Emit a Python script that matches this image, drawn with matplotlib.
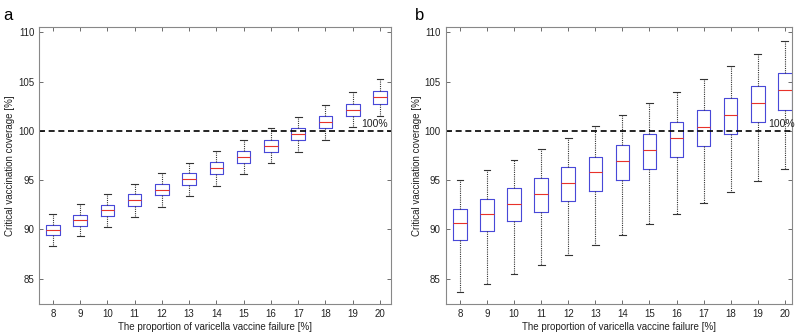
import matplotlib
matplotlib.use("Agg")
import matplotlib.pyplot as plt

plt.rcParams["font.family"] = ["Liberation Sans", "DejaVu Sans"]

# vaccine failure proportion (%)
failure = [8, 9, 10, 11, 12, 13, 14, 15, 16, 17, 18, 19, 20]

# panel a: whisker low, Q1, median, Q3, whisker high
a_low = [88.3, 89.3, 90.25, 91.3, 92.3, 93.4, 94.45, 95.6, 96.7, 97.9, 99.1, 100.35, 101.55]
a_q1 = [89.4, 90.35, 91.35, 92.4, 93.45, 94.5, 95.6, 96.75, 97.9, 99.1, 100.3, 101.5, 102.78]
a_med = [89.95, 90.93, 91.93, 92.98, 94.02, 95.1, 96.23, 97.36, 98.5, 99.72, 100.92, 102.15, 103.4]
a_q3 = [90.48, 91.5, 92.52, 93.58, 94.63, 95.7, 96.8, 97.93, 99.1, 100.28, 101.55, 102.76, 104.05]
a_high = [91.55, 92.56, 93.6, 94.62, 95.68, 96.75, 97.92, 99.07, 100.26, 101.43, 102.68, 103.95, 105.24]

# panel b
b_low = [83.6, 84.5, 85.45, 86.43, 87.4, 88.38, 89.43, 90.5, 91.55, 92.66, 93.77, 94.92, 96.13]
b_q1 = [88.92, 89.83, 90.84, 91.8, 92.9, 93.94, 95.0, 96.16, 97.3, 98.45, 99.66, 100.9, 102.15]
b_med = [90.62, 91.6, 92.6, 93.64, 94.68, 95.8, 96.9, 98.05, 99.23, 100.37, 101.6, 102.86, 104.14]
b_q3 = [92.08, 93.1, 94.18, 95.2, 96.3, 97.4, 98.53, 99.66, 100.88, 102.09, 103.33, 104.58, 105.9]
b_high = [94.97, 96.03, 97.07, 98.2, 99.26, 100.47, 101.6, 102.8, 103.97, 105.25, 106.57, 107.8, 109.16]

threshold = 100

fig = plt.figure(figsize=(8, 3.35), dpi=100)
ax_a = fig.add_axes([0.049, 0.092, 0.4396, 0.8287])
ax_b = fig.add_axes([0.557, 0.092, 0.4325, 0.8287])


def draw_panel(ax, low, q1, med, q3, high, xlim, label_x):
    stats = []
    for i in range(len(failure)):
        stats.append({"whislo": low[i], "q1": q1[i], "med": med[i],
                      "q3": q3[i], "whishi": high[i], "fliers": []})
    ax.bxp(stats, positions=failure, widths=0.5, showfliers=False,
           boxprops=dict(color="#4848d8", linewidth=0.8),
           medianprops=dict(color="#e8322a", linewidth=0.8),
           whiskerprops=dict(color="#333333", linewidth=0.8, linestyle=(0, (1, 1))),
           capprops=dict(color="#333333", linewidth=0.8),
           capwidths=0.25)
    ax.axhline(threshold, color="black", linestyle=(0, (3.6, 2.2)), linewidth=1.2)
    ax.text(label_x, threshold + 0.15, "100%", ha="right", va="bottom", fontsize=7.5,
            color="#222222")
    ax.set_xlim(*xlim)
    ax.set_ylim(82.4, 110.6)
    ax.set_xticks(failure)
    ax.set_xticklabels([str(v) for v in failure])
    ax.set_yticks([85, 90, 95, 100, 105, 110])
    ax.tick_params(direction="in", top=True, right=True, labelsize=7,
                   length=3, width=0.6, color="#555555", labelcolor="#222222")
    for s in ax.spines.values():
        s.set_color("#888888")
        s.set_linewidth(0.8)
    ax.set_xlabel("The proportion of varicella vaccine failure [%]", fontsize=7,
                  labelpad=2, color="#222222")
    ax.set_ylabel("Critical vaccination coverage [%]", fontsize=7,
                  labelpad=2, color="#222222")


draw_panel(ax_a, a_low, a_q1, a_med, a_q3, a_high, (7.5, 20.4), 20.3)
draw_panel(ax_b, b_low, b_q1, b_med, b_q3, b_high, (7.47, 20.25), 20.38)

fig.text(0.004, 0.975, "a", fontsize=12, va="top")
fig.text(0.519, 0.975, "b", fontsize=12, va="top")

fig.savefig("out.png", dpi=100)
